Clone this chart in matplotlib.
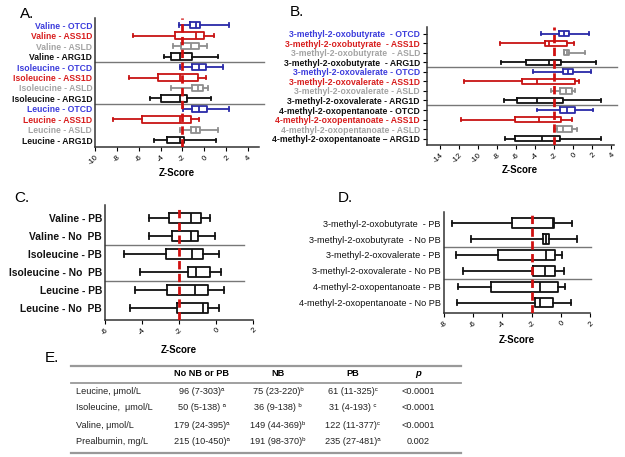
import matplotlib
matplotlib.use("Agg")
import matplotlib.pyplot as plt

plt.rcParams['font.family'] = ['Liberation Sans', 'DejaVu Sans']

BLUE, RED, GREY, BLACK = '#2a2aa8', '#c81414', '#8f8f8f', '#111111'
LBLUE, LRED, LGREY = '#3c3cdc', '#d81e1e', '#a4a4a4'

# ---- panel A: amino acids by disorder (z-scores) ----
a_labels = ['Valine - OTCD', 'Valine - ASS1D', 'Valine - ASLD', 'Valine - ARG1D',
            'Isoleucine - OTCD', 'Isoleucine - ASS1D', 'Isoleucine - ASLD', 'Isoleucine - ARG1D',
            'Leucine - OTCD', 'Leucine - ASS1D', 'Leucine - ASLD', 'Leucine - ARG1D']
a_lo  = [-2.31, -6.50, -2.86, -3.68, -2.25, -6.87, -3.01, -4.92, -1.95, -8.33, -2.25, -4.62]
a_q1  = [-1.34, -2.71, -2.10, -3.01, -1.12, -4.26, -1.09, -3.92, -1.12, -5.68, -1.25, -3.40]
a_med = [-0.73, -0.79, -1.19, -2.19, -0.43, -2.25, -0.58, -2.19, -0.43, -2.25, -0.73, -2.25]
a_q3  = [-0.36, -0.06, -0.49, -1.12, 0.18, -0.52, -0.12, -1.55, 0.27, -1.25, -0.36, -1.88]
a_hi  = [2.25, 0.94, 0.24, 1.31, 1.76, 0.18, 0.33, 0.67, 2.25, -0.43, 1.25, 1.09]

# ---- panel B: keto acids by disorder ----
b_labels = ['3-methyl-2-oxobutyrate  - OTCD', '3-methyl-2-oxobutyrate  - ASS1D',
            '3-methyl-2-oxobutyrate  - ASLD', '3-methyl-2-oxobutyrate  - ARG1D',
            '3-methyl-2-oxovalerate - OTCD', '3-methyl-2-oxovalerate - ASS1D',
            '3-methyl-2-oxovalerate - ASLD', '3-methyl-2-oxovalerate - ARG1D',
            '4-methyl-2-oxopentanoate - OTCD', '4-methyl-2-oxopentanoate - ASS1D',
            '4-methyl-2-oxopentanoate - ASLD', '4-methyl-2-oxopentanoate \u2013 ARG1D']
b_lo  = [-3.40, -7.73, -0.95, -7.56, -4.17, -11.51, -2.31, -7.28, -3.75, -11.79, -1.97, -7.14]
b_q1  = [-1.44, -2.91, -0.92, -4.94, -1.02, -5.39, -1.34, -5.95, -1.37, -6.09, -1.72, -6.06]
b_med = [-0.95, -2.56, -0.67, -2.49, -0.57, -3.82, -0.78, -3.75, -0.64, -3.61, -1.02, -3.29]
b_q3  = [-0.39, -0.64, -0.43, -1.23, 0.03, 0.24, -0.08, -1.02, 0.24, -1.23, -0.15, -1.37]
b_hi  = [1.71, 0.06, 1.25, 2.48, 1.88, 0.59, 0.24, 3.00, 2.13, -0.11, 0.38, 2.93]

# ---- panel C: amino acids, PB vs no PB ----
c_labels = ['Valine - PB', 'Valine - No  PB', 'Isoleucine - PB', 'Isoleucine - No  PB',
            'Leucine - PB', 'Leucine - No  PB']
c_lo  = [-3.64, -3.64, -4.95, -4.12, -4.39, -4.66]
c_q1  = [-2.52, -2.36, -2.72, -1.54, -2.67, -2.12]
c_med = [-1.36, -1.36, -1.29, -1.07, -1.16, -0.71]
c_q3  = [-0.82, -1.00, -0.71, -0.31, -0.44, -0.46]
c_hi  = [-0.35, -0.04, 0.14, 0.29, 0.41, 0.14]

# ---- panel D: keto acids, PB vs no PB ----
d_labels = ['3-methyl-2-oxobutyrate  - PB', '3-methyl-2-oxobutyrate  - No PB',
            '3-methyl-2-oxovalerate - PB', '3-methyl-2-oxovalerate - No PB',
            '4-methyl-2-oxopentanoate - PB', '4-methyl-2-oxopentanoate - No PB']
d_lo  = [-7.43, -6.16, -7.15, -6.69, -7.03, -7.08]
d_q1  = [-3.33, -1.22, -4.32, -1.91, -4.74, -1.75]
d_med = [-0.55, -1.01, -1.01, -1.06, -1.45, -1.45]
d_q3  = [-0.48, -0.83, -0.37, -0.41, -0.21, -0.53]
d_hi  = [0.78, 1.08, 0.09, 0.21, 0.28, 0.67]

# ---- panel E: table ----
e_header = ['No NB or PB', 'NB', 'PB']
e_rows = ['Leucine, \u03bcmol/L', 'Isoleucine,  \u03bcmol/L', 'Valine, \u03bcmol/L', 'Prealbumin, mg/L']
e_none = ['96 (7-303)\u1d43', '50 (5-138) \u1d43', '179 (24-395)\u1d43', '215 (10-450)\u1d43']
e_nb   = ['75 (23-220)\u1d47', '36 (9-138) \u1d47', '149 (44-369)\u1d47', '191 (98-370)\u1d47']
e_pb   = ['61 (11-325)\u1d9c', '31 (4-193) \u1d9c', '122 (11-377)\u1d9c', '235 (27-481)\u1d43']
e_p    = ['<0.0001', '<0.0001', '<0.0001', '0.002']

box_cols = [BLUE, RED, GREY, BLACK] * 3
lab_cols = [LBLUE, LRED, LGREY, BLACK] * 3
lab_cols_b = [LBLUE, LRED, LGREY, BLACK] * 2 + [BLACK, LRED, LGREY, BLACK]


def draw_panel(ax, labels, lo, q1, med, q3, hi, colors, labcols, xlim, xticks,
               width, sep_end, lab_size, lab_weight, xlpad, yticks_on=False):
    stats = []
    for i in range(len(labels)):
        stats.append(dict(whislo=lo[i], q1=q1[i], med=med[i], q3=q3[i], whishi=hi[i], fliers=[]))
    pos = list(range(len(labels)))
    r = ax.bxp(stats, positions=pos, orientation='horizontal', widths=width,
               showfliers=False, capwidths=width * 0.55,
               boxprops=dict(lw=1.3), medianprops=dict(lw=1.3),
               whiskerprops=dict(lw=1.3), capprops=dict(lw=1.3))
    for i, c in enumerate(colors):
        r['boxes'][i].set_color(c)
        r['medians'][i].set_color(c)
        for k in (2 * i, 2 * i + 1):
            r['whiskers'][k].set_color(c)
            r['caps'][k].set_color(c)
    n = len(labels)
    ax.set_ylim(n - 1 + 0.65, -0.7)
    ax.set_xlim(*xlim)
    ax.axvline(-2, color='#d01010', ls=(0, (3, 1.6)), lw=2, zorder=5)
    for s in (3.5, 7.5) if n == 12 else (1.5, 3.5):
        ax.plot([xlim[0], sep_end], [s, s], color='#777777', lw=1, clip_on=False)
    ax.set_yticks(pos)
    ax.set_yticklabels(labels, fontsize=lab_size, fontweight=lab_weight)
    for t, c in zip(ax.get_yticklabels(), labcols):
        t.set_color(c)
    ax.tick_params(axis='y', length=3 if yticks_on else 0, pad=2)
    ax.set_xticks(xticks)
    ax.set_xticklabels([str(v) for v in xticks], rotation=45, ha='right',
                       rotation_mode='anchor', fontsize=5.5)
    ax.tick_params(axis='x', length=3, pad=2)
    for sp in ('top', 'right'):
        ax.spines[sp].set_visible(False)
    for sp in ('left', 'bottom'):
        ax.spines[sp].set_linewidth(1.1)
        ax.spines[sp].set_color('#333333')
    ax.set_xlabel('Z-Score', fontsize=7, fontweight='bold', labelpad=xlpad)


fig = plt.figure(figsize=(6.25, 4.57), dpi=100)

axA = fig.add_axes([0.152, 0.678, 0.262, 0.283])
draw_panel(axA, a_labels, a_lo, a_q1, a_med, a_q3, a_hi, box_cols, lab_cols,
           (-10, 5), list(range(-10, 5, 2)), 0.6, 5.5, 6.2, 'bold', 1)

axB = fig.add_axes([0.683, 0.683, 0.299, 0.258])
draw_panel(axB, b_labels, b_lo, b_q1, b_med, b_q3, b_hi, box_cols, lab_cols_b,
           (-15.4, 4.3), list(range(-14, 5, 2)), 0.55, 4.6, 6.2, 'bold', 0.5, yticks_on=True)

axC = fig.add_axes([0.168, 0.300, 0.237, 0.251])
draw_panel(axC, c_labels, c_lo, c_q1, c_med, c_q3, c_hi, [BLACK] * 6, [BLACK] * 6,
           (-6, 2), list(range(-6, 3, 2)), 0.55, 1.5, 7.4, 'bold', 6)

axD = fig.add_axes([0.710, 0.315, 0.234, 0.221])
draw_panel(axD, d_labels, d_lo, d_q1, d_med, d_q3, d_hi, [BLACK] * 6, [BLACK] * 6,
           (-8, 2), list(range(-8, 3, 2)), 0.6, 2.05, 6.6, 'normal', 4)

for txt, x, y in [('A.', 20, 14), ('B.', 290, 12), ('C.', 14, 198), ('D.', 338, 198), ('E.', 45, 358)]:
    fig.text(x / 625, 1 - y / 457, txt, fontsize=11, va='center')

# table drawn in pixel coordinates on an invisible overlay axes
tab = fig.add_axes([0, 0, 1, 1], zorder=-1)
tab.set_xlim(0, 625)
tab.set_ylim(457, 0)
tab.axis('off')
tab.plot([71, 461], [366, 366], color='#999999', lw=1.6)
tab.plot([71, 461], [383, 383], color='#999999', lw=1.3)
tab.plot([71, 461], [453, 453], color='#999999', lw=1.6)
cols_x = [202, 278, 353]
for x, h in zip(cols_x, e_header):
    tab.text(x, 374, h, ha='center', va='center', fontsize=6.6, fontweight='bold')
tab.text(418, 374, 'p', ha='center', va='center', fontsize=6.8, fontweight='bold', style='italic')
rows_y = [391, 408, 425, 442]
for i, y in enumerate(rows_y):
    tab.text(76, y, e_rows[i], ha='left', va='center', fontsize=6.6, color='#222222')
    for x, col in zip(cols_x, (e_none, e_nb, e_pb)):
        tab.text(x, y, col[i], ha='center', va='center', fontsize=6.6, color='#222222')
    tab.text(418, y, e_p[i], ha='center', va='center', fontsize=6.6, color='#222222')

fig.savefig('out.png', dpi=100)
